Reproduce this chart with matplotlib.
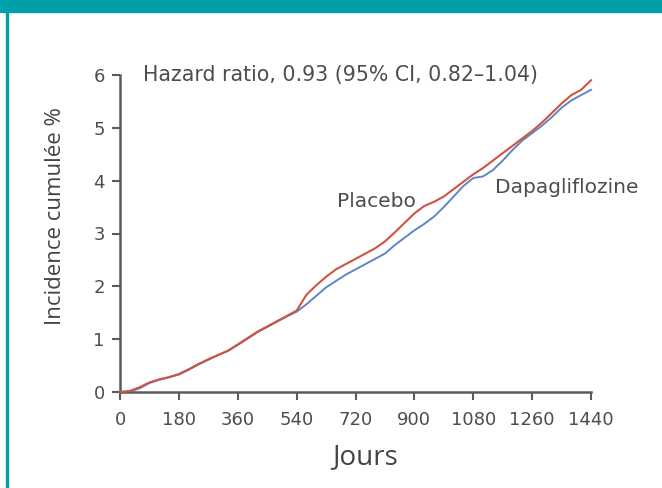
import matplotlib
matplotlib.use("Agg")

import matplotlib.pyplot as plt
from matplotlib.patches import Rectangle

plt.rcParams["font.family"] = ["DejaVu Sans"]

# days since randomisation
days = [0, 30, 60, 90, 120, 150, 180, 210, 240, 270, 300, 330, 360, 390, 420,
        450, 480, 510, 540, 570, 600, 630, 660, 690, 720, 750, 780, 810, 840,
        870, 900, 930, 960, 990, 1020, 1050, 1080, 1110, 1140, 1170, 1200,
        1230, 1260, 1290, 1320, 1350, 1380, 1410, 1440]

# cumulative incidence (%)
placebo = [0.0, 0.02, 0.09, 0.18, 0.24, 0.28, 0.34, 0.43, 0.53, 0.62, 0.70,
           0.78, 0.90, 1.02, 1.14, 1.24, 1.34, 1.44, 1.54, 1.84, 2.02, 2.18,
           2.32, 2.42, 2.52, 2.62, 2.72, 2.85, 3.02, 3.20, 3.38, 3.52, 3.60,
           3.70, 3.84, 3.98, 4.12, 4.24, 4.38, 4.52, 4.66, 4.80, 4.94, 5.10,
           5.28, 5.46, 5.62, 5.72, 5.90]
dapa = [0.0, 0.01, 0.07, 0.17, 0.23, 0.28, 0.33, 0.42, 0.52, 0.61, 0.70,
        0.78, 0.89, 1.01, 1.13, 1.23, 1.33, 1.43, 1.52, 1.66, 1.82, 1.98,
        2.10, 2.22, 2.32, 2.42, 2.52, 2.62, 2.78, 2.92, 3.06, 3.18, 3.32,
        3.50, 3.70, 3.90, 4.05, 4.08, 4.20, 4.38, 4.58, 4.76, 4.90, 5.04,
        5.20, 5.38, 5.52, 5.62, 5.72]

x_ticks = [0, 180, 360, 540, 720, 900, 1080, 1260, 1440]
y_ticks = [0, 1, 2, 3, 4, 5, 6]

teal = "#00A0A8"
axis_grey = "#5a5a5a"
text_grey = "#4d4d4d"
red = "#d0533f"
blue = "#5b86c8"

fig = plt.figure(figsize=(6.62, 4.88), dpi=100)
fig.patches.append(Rectangle((0, 1 - 12 / 488), 1, 12 / 488,
                             transform=fig.transFigure, color=teal, zorder=0))
fig.patches.append(Rectangle((6 / 662, 0), 1.5 / 662, 1,
                             transform=fig.transFigure, color=teal, zorder=0))

ax = fig.add_axes([120 / 662, 1 - 392 / 488, 471 / 662, 317 / 488])
ax.plot(days, placebo, color=red, lw=1.5, clip_on=False, zorder=3)
ax.plot(days, dapa, color=blue, lw=1.4, clip_on=False, zorder=2)

ax.set_xlim(0, 1440)
ax.set_ylim(0, 6)
ax.set_xticks(x_ticks)
ax.set_yticks(y_ticks)
for s in ["top", "right"]:
    ax.spines[s].set_visible(False)
for s in ["left", "bottom"]:
    ax.spines[s].set_color(axis_grey)
    ax.spines[s].set_linewidth(1.8)
ax.tick_params(colors=axis_grey, labelcolor=text_grey, labelsize=13,
               width=1.5, length=6, direction="out")
ax.tick_params(axis="x", pad=8)
ax.tick_params(axis="y", pad=5)

ax.text(70, 6, "Hazard ratio, 0.93 (95% CI, 0.82\u20131.04)", fontsize=14.8,
        color=text_grey, va="center", ha="left")
ax.text(783, 3.6, "Placebo", fontsize=14.5, color=text_grey,
        va="center", ha="center")
ax.text(1146, 3.88, "Dapagliflozine", fontsize=14.5, color=text_grey,
        va="center", ha="left")

ax.set_xlabel("Jours", fontsize=20, color="#444444",
              family=["Open Sans", "DejaVu Sans"], va="center")
ax.xaxis.set_label_coords(0.52, -0.205)
ax.set_ylabel("Incidence cumulée %", fontsize=16, color="#444444",
              family=["Open Sans", "DejaVu Sans"], va="center")
ax.yaxis.set_label_coords(-0.136, 0.554)

fig.savefig("out.png", dpi=100)
plt.close(fig)
